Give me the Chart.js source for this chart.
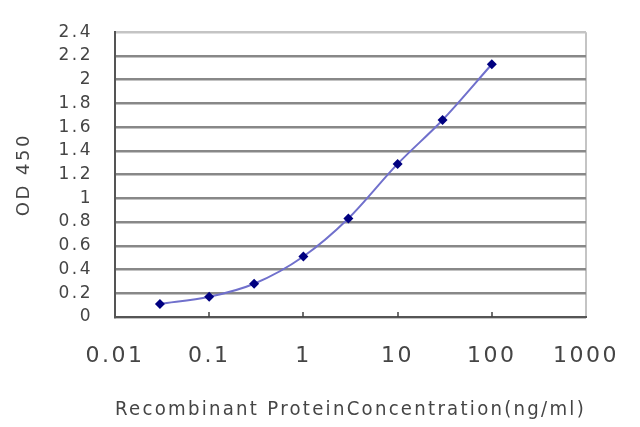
<!DOCTYPE html>
<html><head><meta charset="utf-8">
<script src="https://cdn.jsdelivr.net/npm/chart.js@4.4.1/dist/chart.umd.min.js"></script>
<style>html,body{margin:0;padding:0;background:#fff}#wrap{width:640px;height:427px;position:relative}</style>
</head><body><div id="wrap"><canvas id="c"></canvas></div>
<script>
const concentrations = [0.03, 0.1, 0.3, 1, 3, 10, 30, 100];
const odValues = [0.11, 0.17, 0.28, 0.51, 0.83, 1.29, 1.66, 2.13];
const xTickValues = [0.01, 0.1, 1, 10, 100, 1000];
const xTickLabels = ['0.01', '0.1', '1', '10', '100', '1000'];
const yTickLabels = ['0', '0.2', '0.4', '0.6', '0.8', '1', '1.2', '1.4', '1.6', '1.8', '2', '2.2', '2.4'];
const xTitle = 'Recombinant ProteinConcentration(ng/ml)';
const yTitle = 'OD 450';

const FONT = 'DejaVu Sans, sans-serif';
const TXT = '#454545';

const wideText = {
  id: 'wideText',
  beforeDraw(chart) { chart.ctx.letterSpacing = '2.5px'; }
};

const innerTicks = {
  id: 'innerTicks',
  afterDatasetsDraw(chart) {
    const {ctx, scales: {x}, chartArea} = chart;
    ctx.save();
    ctx.strokeStyle = '#404040';
    ctx.lineWidth = 1.5;
    xTickValues.slice(1, -1).forEach(v => {
      const px = Math.round(x.getPixelForValue(v));
      ctx.beginPath();
      ctx.moveTo(px, chartArea.bottom);
      ctx.lineTo(px, chartArea.bottom - 5);
      ctx.stroke();
    });
    ctx.restore();
  }
};

new Chart(document.getElementById('c'), {
  type: 'line',
  data: {
    datasets: [{
      data: concentrations.map((c, i) => ({x: c, y: odValues[i]})),
      borderColor: '#7070cc',
      borderWidth: 2,
      tension: 0.4,
      cubicInterpolationMode: 'monotone',
      pointStyle: 'rectRot',
      pointRadius: 5,
      pointBackgroundColor: '#000080',
      pointBorderColor: '#000080',
      pointBorderWidth: 0
    }]
  },
  options: {
    responsive: true,
    maintainAspectRatio: false,
    animation: false,
    layout: {padding: {left: 0, right: 52, top: 32, bottom: 0}},
    plugins: {legend: {display: false}, tooltip: {enabled: false}},
    scales: {
      x: {
        type: 'logarithmic',
        min: 0.01, max: 1000,
        afterBuildTicks(scale) { scale.ticks = xTickValues.map(v => ({value: v})); },
        afterFit(scale) { scale.height = 110; },
        ticks: {
          autoSkip: false, maxRotation: 0, padding: 26,
          color: TXT, font: {family: FONT, size: 22},
          callback: (v, i) => xTickLabels[i]
        },
        grid: {
          drawTicks: false,
          lineWidth: 2,
          color: ctx => ctx.index === xTickValues.length - 1 ? '#c4c4c4' : 'rgba(0,0,0,0)'
        },
        border: {display: true, color: '#555555', width: 2},
        title: {display: true, text: xTitle, color: TXT, font: {family: FONT, size: 20}, padding: {top: 5, bottom: 5}}
      },
      y: {
        min: 0, max: 2.4,
        afterBuildTicks(scale) { scale.ticks = yTickLabels.map(t => ({value: parseFloat(t)})); },
        afterFit(scale) { scale.width = 115; },
        ticks: {
          autoSkip: false, padding: 22,
          color: TXT, font: {family: FONT, size: 17},
          callback: (v, i) => yTickLabels[i]
        },
        grid: {
          drawTicks: false,
          lineWidth: 2.5,
          color: ctx => ctx.index === yTickLabels.length - 1 ? '#c4c4c4' : '#888888'
        },
        border: {display: true, color: '#555555', width: 2},
        title: {display: true, text: yTitle, color: TXT, font: {family: FONT, size: 18}, padding: {top: 14, bottom: 14}}
      }
    }
  },
  plugins: [wideText, innerTicks]
});
</script></body></html>
